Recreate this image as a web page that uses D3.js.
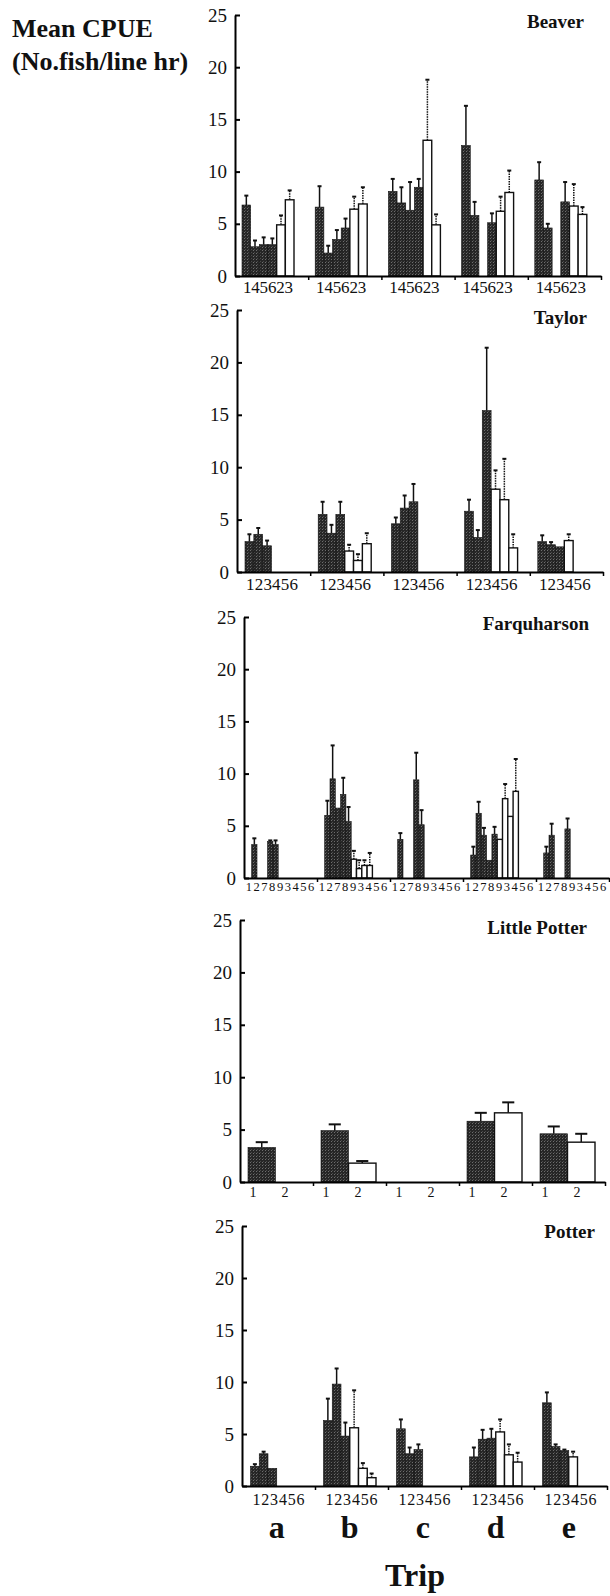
<!DOCTYPE html>
<html>
<head>
<meta charset="utf-8">
<script src="https://cdn.jsdelivr.net/npm/d3@7"></script>
<style>
  body { margin: 0; background: #fff; }
  text { font-family: "Liberation Serif", "Times New Roman", serif; fill: #111; }
</style>
</head>
<body>
<script>
// trips on the x axis, y ticks
var trips = ["a", "b", "c", "d", "e"];
var yTicks = [0, 5, 10, 15, 20, 25];

// Beaver: sites in plotted order, first 4 are dark bars
var beaverSites = ["1", "4", "5", "6", "2", "3"];
var beaverDark = ["1", "4", "5", "6"];
var beaverMean = [
  [6.8, 2.8, 3.0, 3.0, 4.9, 7.3],
  [6.6, 2.2, 3.5, 4.6, 6.4, 6.9],
  [8.1, 7.0, 6.3, 8.5, 13.0, 4.9],
  [12.5, 5.8, 0, 5.1, 6.2, 8.0],
  [9.2, 4.6, 0, 7.1, 6.7, 5.9]
];
var beaverErr = [
  [7.7, 3.4, 3.7, 3.6, 5.8, 8.2],
  [8.6, 2.9, 4.4, 5.5, 7.6, 8.5],
  [9.3, 8.5, 9.0, 9.3, 18.8, 5.9],
  [16.3, 7.1, 0, 6.0, 7.6, 10.1],
  [10.9, 5.0, 0, 9.0, 8.8, 6.6]
];

// Taylor
var taylorSites = ["1", "2", "3", "4", "5", "6"];
var taylorDark = ["1", "2", "3"];
var taylorMean = [
  [2.9, 3.6, 2.5, 0, 0, 0],
  [5.5, 3.7, 5.5, 2.0, 1.1, 2.7],
  [4.6, 6.1, 6.7, 0, 0, 0],
  [5.8, 3.3, 15.4, 7.9, 6.9, 2.3],
  [2.9, 2.6, 2.4, 3.0, 0, 0]
];
var taylorErr = [
  [3.6, 4.2, 3.0, 0, 0, 0],
  [6.7, 4.5, 6.7, 2.6, 1.7, 3.7],
  [5.2, 7.3, 8.4, 0, 0, 0],
  [6.9, 4.0, 21.4, 9.7, 10.8, 3.6],
  [3.5, 2.85, 0, 3.6, 0, 0]
];

// Farquharson
var farqSites = ["1", "2", "7", "8", "9", "3", "4", "5", "6"];
var farqDark = ["1", "2", "7", "8", "9"];
var farqMean = [
  [3.2, 0, 0, 3.5, 3.2, 0, 0, 0, 0],
  [6.0, 9.5, 6.7, 8.0, 5.4, 1.8, 0.9, 1.2, 1.2],
  [3.7, 0, 0, 9.4, 5.1, 0, 0, 0, 0],
  [2.2, 6.2, 4.1, 1.7, 4.2, 3.7, 7.6, 5.9, 8.3],
  [2.4, 4.1, 0, 0, 4.7, 0, 0, 0, 0]
];
var farqErr = [
  [3.8, 0, 0, 3.6, 3.6, 0, 0, 0, 0],
  [7.4, 12.7, 0, 9.6, 6.8, 2.6, 1.7, 1.7, 2.4],
  [4.3, 0, 0, 12.0, 6.5, 0, 0, 0, 0],
  [3.0, 7.3, 4.8, 0, 4.9, 0, 9.0, 0, 11.4],
  [3.0, 5.2, 0, 0, 5.7, 0, 0, 0, 0]
];

// Little Potter
var lpSites = ["1", "2"];
var lpDark = ["1"];
var lpMean = [[3.3, 0], [4.9, 1.8], [0, 0], [5.8, 6.6], [4.6, 3.8]];
var lpErr = [[3.8, 0], [5.5, 2.0], [0, 0], [6.6, 7.6], [5.3, 4.6]];

// Potter
var potterSites = ["1", "2", "3", "4", "5", "6"];
var potterDark = ["1", "2", "3"];
var potterMean = [
  [1.9, 3.1, 1.7, 0, 0, 0],
  [6.3, 9.8, 4.8, 5.6, 1.7, 0.8],
  [5.5, 3.1, 3.5, 0, 0, 0],
  [2.8, 4.5, 4.6, 5.2, 3.0, 2.3],
  [8.0, 3.8, 3.4, 2.8, 0, 0]
];
var potterErr = [
  [2.1, 3.3, 0, 0, 0, 0],
  [8.4, 11.3, 6.1, 9.2, 2.2, 1.2],
  [6.4, 3.7, 4.0, 0, 0, 0],
  [3.7, 5.4, 5.5, 6.4, 4.0, 3.2],
  [9.0, 4.0, 3.5, 3.3, 0, 0]
];

var lakes = ["Beaver", "Taylor", "Farquharson", "Little Potter", "Potter"];

// page layout of each panel (pixels)
var panels = [
  {sites: beaverSites, dark: beaverDark, mean: beaverMean, err: beaverErr,
   x0: 235, x1: 601, zero: 276, top: 15, bars: [7, 59], lab: [8, 58], labSize: 17, labDy: 17, titleX: 584},
  {sites: taylorSites, dark: taylorDark, mean: taylorMean, err: taylorErr,
   x0: 237, x1: 603, zero: 572, top: 310, bars: [8, 61], lab: [9, 61], labSize: 17, labDy: 18, titleX: 587},
  {sites: farqSites, dark: farqDark, mean: farqMean, err: farqErr,
   x0: 244, x1: 609, zero: 878, top: 617, bars: [7.7, 55.4], lab: [1, 71], labSize: 12.5, labDy: 13, titleX: 589},
  {sites: lpSites, dark: lpDark, mean: lpMean, err: lpErr,
   x0: 240, x1: 605, zero: 1182, top: 920, bars: [8, 63], lab: [-3, 61], labSize: 14, labDy: 15, titleX: 587},
  {sites: potterSites, dark: potterDark, mean: potterMean, err: potterErr,
   x0: 242, x1: 607, zero: 1486, top: 1226, bars: [8.5, 61], lab: [10, 63], labSize: 16, labDy: 19, titleX: 595}
];

var svg = d3.select("body").append("svg")
    .attr("width", 610)
    .attr("height", 1596);

// stippled fill for the dark bars
var pat = svg.append("defs").append("pattern")
    .attr("id", "stip")
    .attr("width", 3).attr("height", 3)
    .attr("patternUnits", "userSpaceOnUse");
pat.append("rect").attr("width", 3).attr("height", 3).attr("fill", "#262626");
pat.append("rect").attr("x", 1).attr("y", 1).attr("width", 1).attr("height", 1).attr("fill", "#6e6e6e");
pat.append("rect").attr("x", 2).attr("y", 0).attr("width", 1).attr("height", 1).attr("fill", "#4a4a4a");

// y axis title
svg.append("text")
    .attr("x", 12).attr("y", 37)
    .attr("font-size", "26px").attr("font-weight", 700)
    .text("Mean CPUE");
svg.append("text")
    .attr("x", 12).attr("y", 70)
    .attr("font-size", "26px").attr("font-weight", 700)
    .text("(No.fish/line hr)");

panels.forEach(function(p, pi) {
  var g = svg.append("g");

  var y = d3.scaleLinear().domain([0, 25]).range([p.zero, p.top]);
  var x = d3.scaleBand().domain(trips).range([p.x0, p.x1]);
  var xb = d3.scaleBand().domain(p.sites).range(p.bars);
  var xl = d3.scaleBand().domain(p.sites).range(p.lab);
  var xTick = d3.scaleLinear().domain([0, trips.length]).range([p.x0, p.x1]);

  // one row per trip and site
  var rows = [];
  trips.forEach(function(t, ti) {
    p.sites.forEach(function(s, si) {
      rows.push({trip: t, site: s, v: p.mean[ti][si], e: p.err[ti][si],
                 dark: p.dark.indexOf(s) >= 0});
    });
  });
  var shown = rows.filter(function(d) { return d.v > 0; });
  var cx = function(d) { return x(d.trip) + xb(d.site) + xb.bandwidth() / 2; };
  var cap = Math.max(2, xb.bandwidth() * 0.22);
  var wide = xb.bandwidth() > 15;

  // error bars (drawn first, bars on top)
  var eb = g.append("g").selectAll("g")
      .data(shown.filter(function(d) { return d.e > d.v; }))
    .enter().append("g")
      .attr("stroke", "#111");
  eb.append("line")
      .attr("stroke-width", 1.5)
      .attr("stroke-dasharray", function(d) { return d.dark || wide ? "none" : "1.5,1"; })
      .attr("x1", cx)
      .attr("x2", cx)
      .attr("y1", function(d) { return y(d.v); })
      .attr("y2", function(d) { return y(d.e); });
  eb.append("line")
      .attr("stroke-width", 2)
      .attr("x1", function(d) { return cx(d) - cap; })
      .attr("x2", function(d) { return cx(d) + cap; })
      .attr("y1", function(d) { return y(d.e); })
      .attr("y2", function(d) { return y(d.e); });

  g.append("g").selectAll("rect")
      .data(shown)
    .enter().append("rect")
      .attr("x", function(d) { return x(d.trip) + xb(d.site); })
      .attr("width", xb.bandwidth())
      .attr("y", function(d) { return y(d.v); })
      .attr("height", function(d) { return y(0) - y(d.v); })
      .attr("fill", function(d) { return d.dark ? "url(#stip)" : "#fff"; })
      .attr("stroke", "#111")
      .attr("stroke-width", function(d) { return d.dark ? 0.6 : 1.4; });

  // y axis, ticks pointing inward
  var yAxis = g.append("g")
      .attr("transform", "translate(" + p.x0 + ",0)")
      .call(d3.axisLeft(y).tickValues(yTicks).tickSizeInner(-5).tickSizeOuter(0).tickPadding(8));
  yAxis.select(".domain").attr("stroke-width", 2);
  yAxis.selectAll(".tick line").attr("stroke-width", 2);
  yAxis.selectAll("text")
      .attr("font-family", "Liberation Serif")
      .attr("font-size", "19px")
      .attr("fill", "#111");

  // x axis with ticks at trip boundaries
  var xAxis = g.append("g")
      .attr("transform", "translate(0," + p.zero + ")")
      .call(d3.axisBottom(xTick).tickValues(d3.range(1, trips.length + 1))
            .tickFormat("").tickSizeInner(4).tickSizeOuter(0));
  xAxis.select(".domain").attr("stroke-width", 1.8);
  xAxis.selectAll(".tick line").attr("stroke-width", 1.5);

  // site labels under each trip
  var labs = [];
  trips.forEach(function(t) {
    p.sites.forEach(function(s) { labs.push({trip: t, site: s}); });
  });
  g.append("g").selectAll("text")
      .data(labs)
    .enter().append("text")
      .attr("x", function(d) { return x(d.trip) + xl(d.site) + xl.bandwidth() / 2; })
      .attr("y", p.zero + p.labDy)
      .attr("text-anchor", "middle")
      .attr("font-size", p.labSize + "px")
      .text(function(d) { return d.site; });

  // lake name
  g.append("text")
      .attr("x", p.titleX)
      .attr("y", p.zero - 248)
      .attr("text-anchor", "end")
      .attr("font-size", "19px")
      .attr("font-weight", 700)
      .text(lakes[pi]);

  // trip letters under the last panel
  if (pi === panels.length - 1) {
    g.append("g").selectAll("text")
        .data(trips)
      .enter().append("text")
        .attr("x", function(d) { return x(d) + (p.bars[0] + p.bars[1]) / 2; })
        .attr("y", 1538)
        .attr("text-anchor", "middle")
        .attr("font-size", "32px")
        .attr("font-weight", 700)
        .text(function(d) { return d; });
    g.append("text")
        .attr("x", 415)
        .attr("y", 1586)
        .attr("text-anchor", "middle")
        .attr("font-size", "32px")
        .attr("font-weight", 700)
        .text("Trip");
  }
});
</script>
</body>
</html>
